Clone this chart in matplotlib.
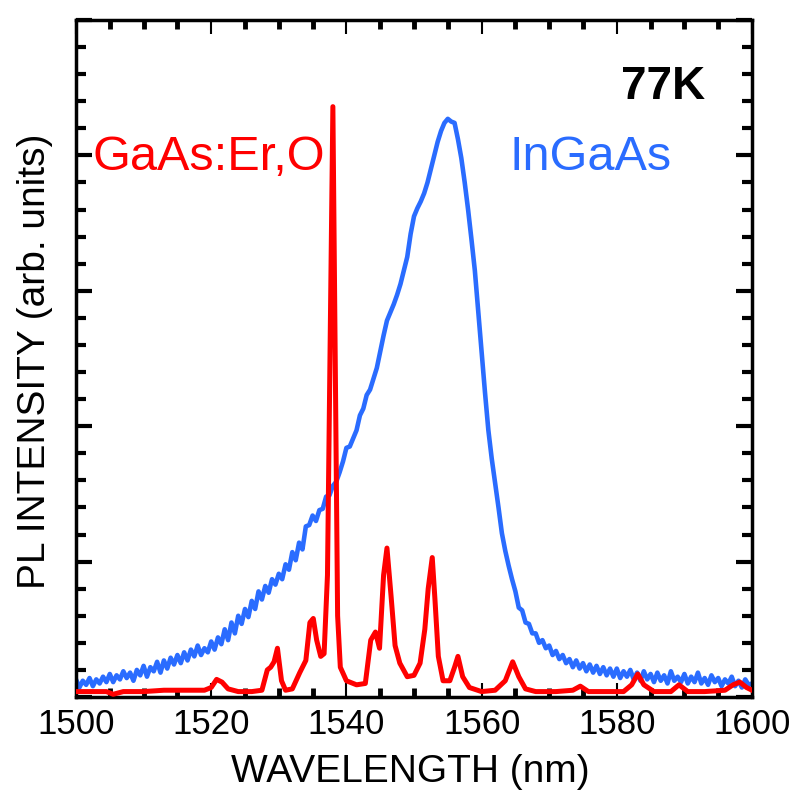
import numpy as np
import matplotlib
matplotlib.use("Agg")
import matplotlib.pyplot as plt
from matplotlib.ticker import MultipleLocator

plt.rcParams['font.family'] = ['Liberation Sans', 'DejaVu Sans']

# --- InGaAs reference spectrum (0.5 nm steps) ---
ingaas_wl = np.arange(1500.0, 1600.01, 0.5)
ingaas_pl = [
    0.13, 0.07, 0.12, 0.09, 0.14, 0.08, 0.13, 0.10, 0.15, 0.11,
    0.17, 0.11, 0.16, 0.13, 0.19, 0.14, 0.18, 0.12, 0.20, 0.16,
    0.23, 0.15, 0.22, 0.19, 0.26, 0.18, 0.27, 0.21, 0.29, 0.24,
    0.31, 0.25, 0.33, 0.27, 0.35, 0.30, 0.38, 0.31, 0.36, 0.33,
    0.41, 0.35, 0.44, 0.39, 0.50, 0.42, 0.55, 0.47, 0.60, 0.54,
    0.65, 0.59, 0.71, 0.65, 0.78, 0.72, 0.82, 0.77, 0.87, 0.83,
    0.91, 0.87, 0.98, 0.94, 1.07, 1.01, 1.14, 1.09, 1.26, 1.27,
    1.34, 1.30, 1.38, 1.39, 1.48, 1.49, 1.56, 1.59, 1.66, 1.74,
    1.84, 1.85, 1.91, 1.97, 2.08, 2.13, 2.23, 2.27, 2.35, 2.43,
    2.55, 2.67, 2.78, 2.84, 2.90, 2.97, 3.05, 3.15, 3.25, 3.42,
    3.55, 3.61, 3.66, 3.72, 3.80, 3.90, 4.00, 4.10, 4.18, 4.24,
    4.27, 4.25, 4.24, 4.12, 3.98, 3.80, 3.60, 3.38, 3.15, 2.85,
    2.55, 2.25, 1.97, 1.76, 1.58, 1.40, 1.21, 1.08, 0.97, 0.87,
    0.78, 0.66, 0.64, 0.55, 0.54, 0.47, 0.47, 0.40, 0.42, 0.36,
    0.38, 0.31, 0.34, 0.28, 0.31, 0.25, 0.28, 0.22, 0.27, 0.21,
    0.25, 0.19, 0.24, 0.18, 0.23, 0.17, 0.22, 0.16, 0.21, 0.15,
    0.21, 0.14, 0.19, 0.15, 0.20, 0.13, 0.18, 0.12, 0.19, 0.13,
    0.17, 0.11, 0.18, 0.12, 0.16, 0.10, 0.19, 0.12, 0.15, 0.11,
    0.17, 0.10, 0.15, 0.11, 0.18, 0.10, 0.14, 0.09, 0.16, 0.11,
    0.14, 0.08, 0.13, 0.10, 0.15, 0.08, 0.12, 0.07, 0.13, 0.09,
    0.10,
]

# --- GaAs:Er,O spectrum (sharp Er lines) ---
er_wl = [1500, 1503, 1504.5, 1505.5, 1507, 1510, 1513, 1516, 1519, 1520,
         1520.8, 1521.6, 1522.5, 1524, 1526, 1527.5, 1528.3, 1528.8, 1529.3, 1529.8,
         1530.4, 1531.0, 1532.0, 1533.1, 1534.0, 1534.6, 1535.1, 1535.6, 1536.2, 1536.7,
         1537.2, 1538.0, 1538.7, 1539.1, 1540, 1541.5, 1542.8, 1543.6, 1544.3, 1544.9,
         1545.5, 1546.0, 1546.6, 1547.2, 1547.9, 1549.0, 1550.0, 1550.9, 1551.6, 1552.1,
         1552.7, 1553.1, 1553.6, 1554.3, 1555.3, 1556.0, 1556.5, 1557.2, 1558.2, 1560,
         1562, 1563.5, 1564.6, 1565.5, 1566.5, 1568, 1571, 1573.5, 1574.6, 1575.8,
         1578, 1581, 1582.2, 1583.1, 1584.0, 1585.5, 1588, 1589.2, 1590.5, 1593,
         1596, 1597.2, 1598.2, 1599.2, 1600]
er_pl = [0.04, 0.04, 0.04, 0.02, 0.04, 0.04, 0.05, 0.05, 0.05, 0.07,
         0.13, 0.11, 0.06, 0.04, 0.04, 0.05, 0.20, 0.22, 0.26, 0.36,
         0.12, 0.05, 0.06, 0.18, 0.27, 0.55, 0.58, 0.42, 0.30, 0.32,
         0.90, 4.36, 0.60, 0.22, 0.12, 0.09, 0.10, 0.42, 0.48, 0.36,
         0.90, 1.10, 0.75, 0.38, 0.25, 0.15, 0.16, 0.25, 0.50, 0.80,
         1.03, 0.72, 0.30, 0.12, 0.12, 0.22, 0.30, 0.15, 0.07, 0.04,
         0.05, 0.12, 0.26, 0.15, 0.06, 0.04, 0.04, 0.05, 0.08, 0.04,
         0.04, 0.04, 0.09, 0.17, 0.09, 0.04, 0.04, 0.09, 0.04, 0.04,
         0.05, 0.09, 0.11, 0.07, 0.05]

fig = plt.figure(figsize=(7.97, 7.92), dpi=100)
ax = fig.add_axes([76/797, 95/792, 676/797, 677/792])

ax.plot(ingaas_wl, ingaas_pl, color='#2a6cff', lw=3.3, zorder=2)
ax.plot(er_wl, er_pl, color='#ff0000', lw=3.6, zorder=3)

ax.set_xlim(1500, 1600)
ax.set_ylim(0, 5)

ax.xaxis.set_major_locator(MultipleLocator(20))
ax.xaxis.set_minor_locator(MultipleLocator(5))
ax.yaxis.set_major_locator(MultipleLocator(1))
ax.yaxis.set_minor_locator(MultipleLocator(0.2))

ax.tick_params(axis='x', which='major', direction='in', top=True, length=10, width=1.5,
               labelsize=25, pad=8)
ax.tick_params(axis='x', which='minor', direction='in', top=True, length=6.5, width=3.5)
ax.tick_params(axis='y', which='major', direction='in', right=True, length=11.5, width=3,
               labelleft=False)
ax.tick_params(axis='y', which='minor', direction='in', right=True, length=7, width=3)
for s in ax.spines.values():
    s.set_linewidth(2.5)

ax.text(1502.5, 3.89, 'GaAs:Er,O', color='#ff0000', fontsize=35, ha='left', va='baseline')
ax.text(1564.2, 3.89, 'InGaAs', color='#2a6cff', fontsize=35, ha='left', va='baseline')
ax.text(1593.0, 4.42, '77K', color='black', fontsize=33, fontweight='bold',
        ha='right', va='baseline')

fig.text(410/797, 0.013, 'WAVELENGTH (nm)', fontsize=28, ha='center', va='baseline')
fig.text(45/797, 1 - 361/792, 'PL INTENSITY (arb. units)', fontsize=28, rotation=90,
         rotation_mode='anchor', ha='center', va='baseline')

fig.savefig('out.png', dpi=100)
